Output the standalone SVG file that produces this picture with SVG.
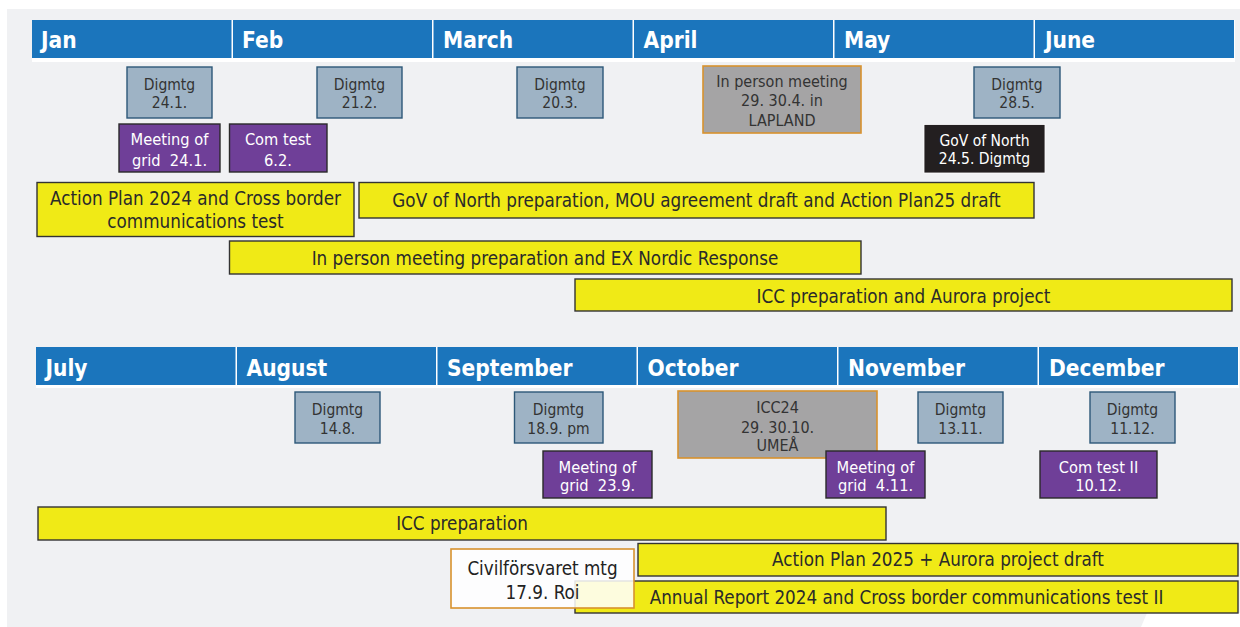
<svg xmlns="http://www.w3.org/2000/svg" width="1240" height="627" viewBox="0 0 1240 627">
<style>
text{font-family:"DejaVu Sans Condensed","DejaVu Sans",sans-serif;font-stretch:condensed;text-anchor:middle}
.mh{fill:#1b75bc}
.mt{font-weight:bold;font-size:22.5px;fill:#fff;text-anchor:start}
.dg{fill:#9eb3c5;stroke:#2d5878;stroke-width:1.4}
.dt{font-size:15.5px;fill:#333}
.pu{fill:#6f3f98;stroke:#2a2a2a;stroke-width:1.4}
.pt{font-size:16.3px;fill:#fff}
.gy{fill:#a5a4a5;stroke:#d8922e;stroke-width:1.6}
.gt{font-size:16px;fill:#333}
.yl{fill:#f0ea16;stroke:#333;stroke-width:1.4}
.yt{font-size:18.7px;fill:#2a2a2a}
</style>
<rect x="0" y="0" width="1240" height="627" fill="#fff"/>
<rect x="7" y="9" width="1233" height="618" fill="#f0f1f3"/>
<polygon points="1141,627 1147,613 1240,613 1240,627" fill="#fff"/>

<g id="header-row1">
<rect x="32" y="20" width="1203" height="42" fill="#fff"/>
<rect class="mh" x="32" y="20" width="199.5" height="38"/>
<rect class="mh" x="233" y="20" width="199" height="38"/>
<rect class="mh" x="433.5" y="20" width="199" height="38"/>
<rect class="mh" x="634" y="20" width="199" height="38"/>
<rect class="mh" x="834.5" y="20" width="199" height="38"/>
<rect class="mh" x="1035" y="20" width="199" height="38"/>
<text class="mt" x="41" y="48">Jan</text>
<text class="mt" x="242" y="48">Feb</text>
<text class="mt" x="443" y="48">March</text>
<text class="mt" x="643.5" y="48">April</text>
<text class="mt" x="844" y="48">May</text>
<text class="mt" x="1045" y="48">June</text>
</g>

<g id="header-row2">
<rect x="36" y="347" width="1203" height="41" fill="#fff"/>
<rect class="mh" x="36" y="347" width="199.5" height="38"/>
<rect class="mh" x="237" y="347" width="199" height="38"/>
<rect class="mh" x="437.5" y="347" width="199" height="38"/>
<rect class="mh" x="638" y="347" width="199" height="38"/>
<rect class="mh" x="838.5" y="347" width="199" height="38"/>
<rect class="mh" x="1039" y="347" width="199" height="38"/>
<text class="mt" x="45.5" y="376">July</text>
<text class="mt" x="246.5" y="376">August</text>
<text class="mt" x="447" y="376">September</text>
<text class="mt" x="647.5" y="376">October</text>
<text class="mt" x="848" y="376">November</text>
<text class="mt" x="1049" y="376">December</text>
</g>

<g id="connectors"></g>

<g id="digmtg-24-1"><rect class="dg" x="127" y="67" width="85" height="51"/><text class="dt" x="169.5" y="90">Digmtg</text><text class="dt" x="169.5" y="108">24.1.</text></g>
<g id="digmtg-21-2"><rect class="dg" x="317" y="67" width="85" height="51"/><text class="dt" x="359.5" y="90">Digmtg</text><text class="dt" x="359.5" y="108">21.2.</text></g>
<g id="digmtg-20-3"><rect class="dg" x="517" y="67" width="86" height="51"/><text class="dt" x="560" y="90">Digmtg</text><text class="dt" x="560" y="108">20.3.</text></g>
<g id="digmtg-28-5"><rect class="dg" x="974" y="67" width="86" height="51"/><text class="dt" x="1017" y="90">Digmtg</text><text class="dt" x="1017" y="108">28.5.</text></g>

<g id="inperson-meeting"><rect class="gy" x="703" y="66" width="158" height="67"/><text class="gt" x="782" y="87">In person meeting</text><text class="gt" x="782" y="106">29. 30.4. in</text><text class="gt" x="782" y="125.5">LAPLAND</text></g>

<g id="meeting-grid-24-1"><rect class="pu" x="119" y="124" width="101" height="48"/><text class="pt" x="169.5" y="145">Meeting of</text><text class="pt" x="169.5" y="165.5">grid&#160; 24.1.</text></g>
<g id="comtest-6-2"><rect class="pu" x="229.5" y="124" width="97.5" height="48"/><text class="pt" x="278" y="145">Com test</text><text class="pt" x="278" y="165.5">6.2.</text></g>
<g id="gov-north-24-5"><rect x="924" y="124.5" width="121" height="48.5" fill="#231f20" stroke="#fff" stroke-width="0.8"/><text class="dt" style="fill:#fff" x="984.5" y="145.5">GoV of North</text><text class="dt" style="fill:#fff" x="984.5" y="163.5">24.5. Digmtg</text></g>

<g id="actionplan-2024"><rect class="yl" x="37" y="182.5" width="317" height="54"/><text class="yt" x="195.5" y="205">Action Plan 2024 and Cross border</text><text class="yt" x="195.5" y="228">communications test</text></g>
<g id="gov-north-prep"><rect class="yl" x="359" y="182.5" width="675" height="35.5"/><text class="yt" x="696.5" y="206.5">GoV of North preparation, MOU agreement draft and Action Plan25 draft</text></g>
<g id="inperson-prep"><rect class="yl" x="229.5" y="241" width="631.5" height="33"/><text class="yt" x="545" y="265">In person meeting preparation and EX Nordic Response</text></g>
<g id="icc-prep-aurora"><rect class="yl" x="575" y="279" width="657" height="32"/><text class="yt" x="903.5" y="302.5">ICC preparation and Aurora project</text></g>

<g id="digmtg-14-8"><rect class="dg" x="295" y="392" width="85" height="51"/><text class="dt" x="337.5" y="415">Digmtg</text><text class="dt" x="337.5" y="434">14.8.</text></g>
<g id="digmtg-18-9"><rect class="dg" x="514.5" y="392" width="88.5" height="51"/><text class="dt" x="558.5" y="415">Digmtg</text><text class="dt" x="558.5" y="434">18.9. pm</text></g>
<g id="digmtg-13-11"><rect class="dg" x="918" y="392" width="85" height="51"/><text class="dt" x="960.5" y="415">Digmtg</text><text class="dt" x="960.5" y="434">13.11.</text></g>
<g id="digmtg-11-12"><rect class="dg" x="1090" y="392" width="85" height="51"/><text class="dt" x="1132.5" y="415">Digmtg</text><text class="dt" x="1132.5" y="434">11.12.</text></g>

<g id="icc24"><rect class="gy" x="678" y="391" width="199" height="67"/><text class="gt" x="777.5" y="413">ICC24</text><text class="gt" x="777.5" y="432.5">29. 30.10.</text><text class="gt" x="777.5" y="451">UMEÅ</text></g>

<g id="meeting-grid-23-9"><rect class="pu" x="543" y="451" width="109" height="47"/><text class="pt" x="597.5" y="473">Meeting of</text><text class="pt" x="597.5" y="491">grid&#160; 23.9.</text></g>
<g id="meeting-grid-4-11"><rect class="pu" x="826" y="451" width="99" height="47"/><text class="pt" x="875.5" y="473">Meeting of</text><text class="pt" x="875.5" y="491">grid&#160; 4.11.</text></g>
<g id="comtest-10-12"><rect class="pu" x="1040" y="451" width="117" height="47"/><text class="pt" x="1098.5" y="473">Com test II</text><text class="pt" x="1098.5" y="491">10.12.</text></g>

<g id="icc-prep"><rect class="yl" x="38" y="507" width="848" height="33"/><text class="yt" x="462" y="530">ICC preparation</text></g>
<g id="actionplan-2025"><rect class="yl" x="638" y="543.5" width="600" height="32.5"/><text class="yt" x="938" y="566">Action Plan 2025 + Aurora project draft</text></g>
<g id="annual-report"><rect class="yl" x="575" y="581" width="663" height="32"/><text class="yt" x="906.5" y="603.5">Annual Report 2024 and Cross border communications test II</text></g>
<g id="civilforsvaret"><rect x="451" y="549" width="183" height="59" fill="#fff" fill-opacity="0.86" stroke="#d8922e" stroke-width="1.6"/><text class="yt" style="fill:#222" x="542.5" y="575">Civilförsvaret mtg</text><text class="yt" style="fill:#222" x="542.5" y="598.5">17.9. Roi</text></g>
</svg>
